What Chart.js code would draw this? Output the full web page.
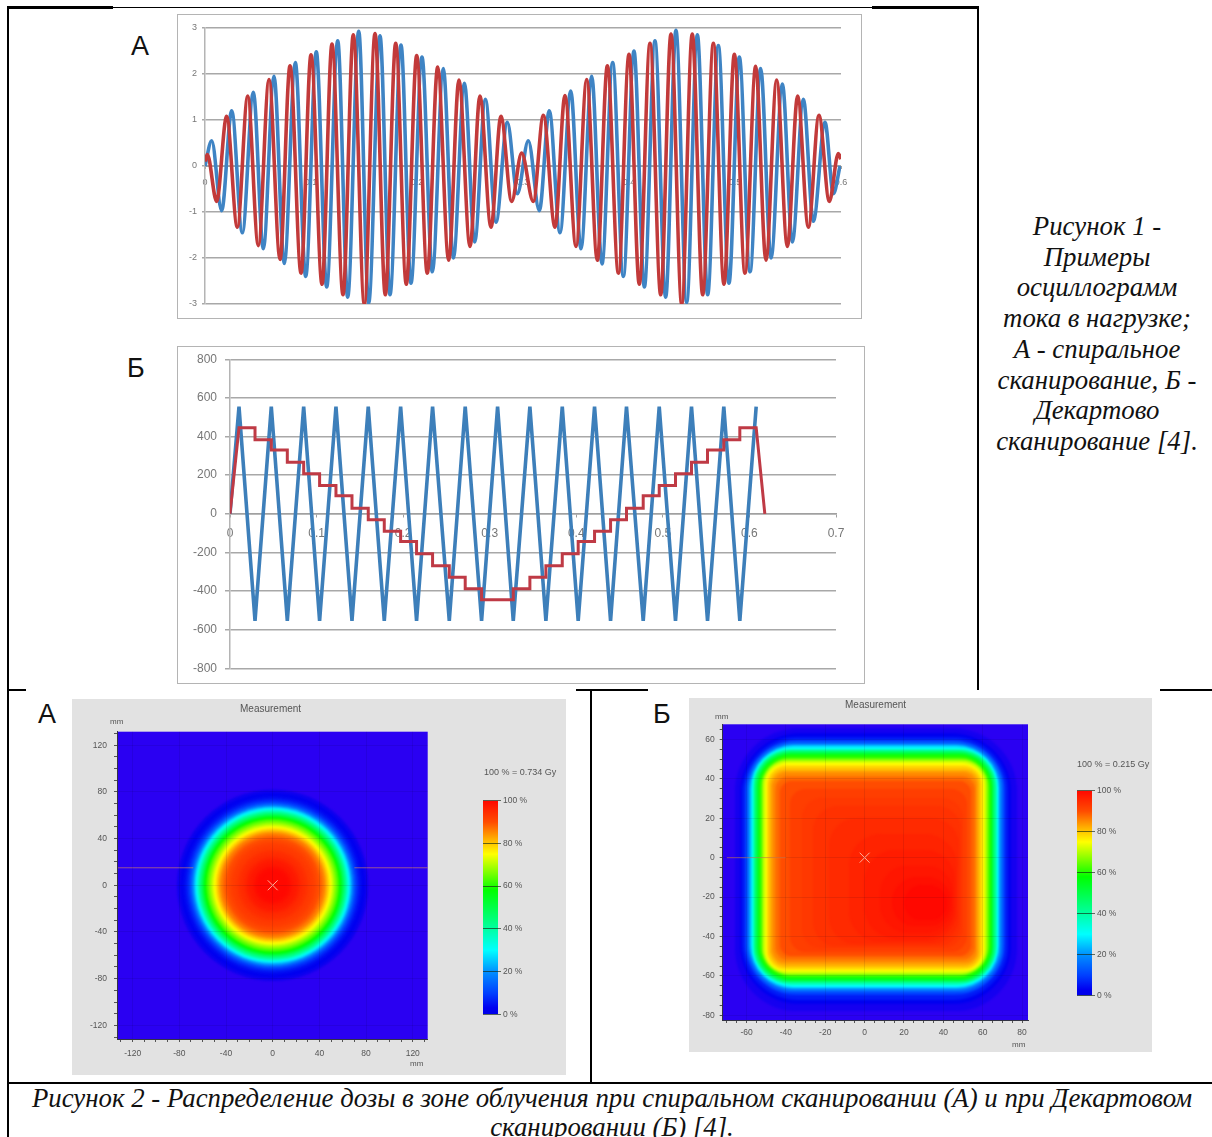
<!DOCTYPE html>
<html lang="ru"><head><meta charset="utf-8"><title>Осциллограммы и распределение дозы</title>
<script src="https://cdn.jsdelivr.net/npm/chart.js@4"></script>
<style>
html,body{margin:0;padding:0;background:#fff;width:1212px;height:1137px;overflow:hidden}
.a{position:absolute}
.ln{position:absolute;background:#000}
canvas{position:absolute;filter:blur(.6px)}
.frame{position:absolute;border:1.5px solid #b4b4b4;box-sizing:border-box}
.panel{position:absolute;background:#e2e2e2}
.big{position:absolute;font:27px "Liberation Sans",sans-serif;color:#111;line-height:28px}
.cap{position:absolute;font:italic 26.8px/30.7px "Liberation Serif",serif;color:#111;text-align:center;white-space:nowrap}
.sm{position:absolute;font:10px/11px "Liberation Sans",sans-serif;color:#555;white-space:nowrap;filter:blur(.3px)}
</style></head><body>
<div class="ln" style="left:7px;top:6px;width:106px;height:2.5px"></div>
<div class="ln" style="left:113px;top:7px;width:759px;height:1px"></div>
<div class="ln" style="left:872px;top:6px;width:106px;height:2.5px"></div>
<div class="ln" style="left:7px;top:6px;width:2px;height:1131px"></div>
<div class="ln" style="left:977px;top:6px;width:2px;height:684px"></div>
<div class="ln" style="left:7px;top:689px;width:19px;height:2px"></div>
<div class="ln" style="left:576px;top:689px;width:72px;height:2px"></div>
<div class="ln" style="left:1160px;top:689px;width:52px;height:2px"></div>
<div class="ln" style="left:590px;top:689px;width:2px;height:393px"></div>
<div class="ln" style="left:7px;top:1082px;width:1205px;height:2px"></div>

<div class="big" style="left:131px;top:32px">А</div>
<div class="big" style="left:127px;top:354px">Б</div>
<div class="big" style="left:38px;top:700px">А</div>
<div class="big" style="left:653px;top:700px">Б</div>

<div class="frame" style="left:177px;top:14px;width:685px;height:305px"></div>
<canvas id="oscA" width="683" height="304" style="left:178px;top:14px"></canvas>
<div class="frame" style="left:177px;top:346px;width:688px;height:338px"></div>
<canvas id="oscB" width="686" height="337" style="left:178px;top:346px"></canvas>

<div class="panel" style="left:72px;top:699px;width:494px;height:376px"></div>
<canvas id="doseA" width="494" height="376" style="left:72px;top:699px"></canvas>
<canvas id="barA" width="90" height="240" style="left:483px;top:788px"></canvas>
<div class="sm" style="left:240px;top:703px">Measurement</div>
<div class="sm" style="left:110px;top:716px;font-size:8px">mm</div>
<div class="sm" style="left:410px;top:1058px;font-size:8px">mm</div>
<div class="sm" style="left:484px;top:767px;font-size:9px">100 % = 0.734 Gy</div>

<div class="panel" style="left:689px;top:698px;width:463px;height:354px"></div>
<canvas id="doseB" width="463" height="354" style="left:689px;top:698px"></canvas>
<canvas id="barB" width="90" height="230" style="left:1077px;top:778px"></canvas>
<div class="sm" style="left:845px;top:699px">Measurement</div>
<div class="sm" style="left:715px;top:711px;font-size:8px">mm</div>
<div class="sm" style="left:1012px;top:1039px;font-size:8px">mm</div>
<div class="sm" style="left:1077px;top:759px;font-size:9px">100 % = 0.215 Gy</div>

<div class="cap" style="left:980px;top:211px;width:234px">Рисунок 1 -<br>Примеры<br>осциллограмм<br>тока в нагрузке;<br>А - спиральное<br>сканирование, Б -<br>Декартово<br>сканирование [4].</div>
<div class="cap" style="left:0;top:1084px;width:1224px;line-height:29px">Рисунок 2 - Распределение дозы в зоне облучения при спиральном сканировании (А) и при Декартовом<br>сканировании (Б) [4].</div>

<script>
// ---------- oscillogram A: turning points ----------
const oscAYTicks = [-3,-2,-1,0,1,2,3];
const oscAXTicks = [0,.1,.2,.3,.4,.5,.6];
const oscABlueT = [0,.0063,.0157,.0252,.0352,.0456,.055,.0651,.0748,.0852,.095,.105,.1148,.1252,.1346,.145,.1544,.1651,.1745,.1849,.1943,.2047,.2145,.2248,.2343,.2447,.2544,.2645,.2745,.2852,.2947,.305,.3154,.3248,.3349,.345,.3547,.3648,.3745,.3846,.3947,.4047,.4145,.4245,.4346,.4443,.4544,.4645,.4742,.4843,.4943,.5041,.5142,.5242,.534,.5447,.5541,.5645,.5739,.5849,.5928,.5991];
const oscABlueV = [0,.55,-.97,1.2,-1.45,1.6,-1.8,1.95,-2.12,2.25,-2.4,2.48,-2.63,2.72,-2.85,2.93,-2.98,2.83,-2.8,2.63,-2.55,2.37,-2.3,2.12,-2,1.8,-1.65,1.45,-1.22,.95,-.6,.55,-.97,1.2,-1.45,1.63,-1.8,1.95,-2.13,2.25,-2.4,2.5,-2.63,2.72,-2.85,2.95,-2.97,2.85,-2.8,2.62,-2.55,2.37,-2.3,2.12,-2,1.78,-1.65,1.45,-1.2,.95,-.6,0];
const oscARedT = [0,.0022,.011,.0204,.0305,.0403,.0503,.0604,.0708,.0802,.0906,.1,.1104,.1198,.1302,.1399,.1503,.1604,.1701,.1799,.1899,.1997,.2097,.2195,.2299,.2396,.25,.2594,.2698,.2792,.2893,.2987,.3097,.3192,.3302,.3396,.35,.3601,.3701,.3796,.39,.4,.4097,.4198,.4299,.4396,.4497,.4597,.4695,.4796,.4896,.4994,.5094,.5195,.5292,.5393,.5494,.5591,.5692,.5792,.589,.5975,.6];
const oscARedV = [.1,.25,-.77,1.08,-1.33,1.52,-1.73,1.88,-2.03,2.18,-2.33,2.42,-2.57,2.65,-2.8,2.85,-3,2.88,-2.8,2.67,-2.57,2.4,-2.33,2.15,-2.05,1.87,-1.75,1.52,-1.33,1.08,-.77,.28,-.77,1.1,-1.33,1.53,-1.75,1.88,-2.05,2.18,-2.33,2.43,-2.57,2.67,-2.8,2.87,-3,2.87,-2.8,2.67,-2.57,2.43,-2.33,2.17,-2.05,1.87,-1.75,1.52,-1.33,1.1,-.77,.27,.15];

// ---------- oscillogram Б ----------
const oscBXTicks = [0,.1,.2,.3,.4,.5,.6,.7];
const oscBYTicks = [-800,-600,-400,-200,0,200,400,600,800];
const oscBBlueT = [0,.0104,.0289,.0477,.0662,.0851,.1035,.1224,.1409,.1597,.1782,.1971,.2155,.234,.2533,.2717,.2906,.3091,.3272,.3464,.3649,.3838,.4022,.4211,.4396,.458,.4773,.4958,.5146,.5331,.5516,.5704,.5889,.6078];
const oscBBlueV = [0,555,-555,555,-555,555,-555,555,-555,555,-555,555,-555,555,-555,555,-555,555,-555,555,-555,555,-555,555,-555,555,-555,555,-555,555,-555,555,-555,555];
const oscBRedT = [0,.0104,.0289,.0289,.0477,.0477,.0662,.0662,.0851,.0851,.1035,.1035,.1224,.1224,.1409,.1409,.1597,.1597,.1782,.1782,.1971,.1971,.2155,.2155,.234,.234,.2533,.2533,.2717,.2717,.2906,.2906,.3272,.3272,.3464,.3464,.3649,.3649,.3838,.3838,.4022,.4022,.4211,.4211,.4396,.4396,.458,.458,.4773,.4773,.4958,.4958,.5146,.5146,.5331,.5331,.5516,.5516,.5704,.5704,.5889,.5889,.6078,.6178];
const oscBRedV = [0,446,446,383,383,331,331,267,267,207,207,147,147,93,93,29,29,-31,-31,-91,-91,-143,-143,-207,-207,-269,-269,-328,-328,-388,-388,-445,-445,-388,-388,-328,-328,-269,-269,-207,-207,-143,-143,-91,-91,-31,-31,29,29,93,93,147,147,207,207,267,267,331,331,383,383,446,446,0];

// ---------- dose map А: radial dose profile ----------
const doseARadius = [82,81,80,79,78,77,76,75,74,73,72,71,70,69,68,67,66,65,64,63,62,61,60,59,58,57,56,55,54,53,52,51,50,49,48,47,46,45,44,43,42,41,40,38,36,34,32,30,28,26,24,22,20,18,16,14,12];
const doseAPct    = [1,1.5,2,2.5,3,3.5,4,5,6,7.5,9,11,14,17,21,25,29,33,37,41,44,48,51,55,58,61,63,65,67,69,71,73,75,77,79,81,83,85,86,87,88,89,90,91,92,92.5,93,94,94.5,95,96,97,97.5,98,99,99.5,100];
const doseATicks = [-130,-120,-110,-100,-90,-80,-70,-60,-50,-40,-30,-20,-10,0,10,20,30,40,50,60,70,80,90,100,110,120,130];
const doseALineX = [[-133,-68],[70,133]];
const doseALineY = 15;

// ---------- dose map Б: iso-dose rounded squares ----------
const doseBPct    = [1,3,6,10,15,20,25,30,35,40,45,50,55,60,65,70,72.5,75,77.5,80,82.5,85,87,88,90,92,93,94,95,96,97,98,99,100];
const doseBLeft   = [-65.9,-63.3,-62.1,-60.8,-59.6,-58.7,-58.1,-57.4,-56.9,-56.4,-55.7,-55,-54.3,-53.7,-52.6,-51.6,-51,-50.4,-49.7,-48.9,-48,-46.9,-45.5,-44.7,-43,-38,-32,-26,-18,-8,0,8,14,20];
const doseBRight  = [77.4,74.5,73,71.5,70.3,69.4,68.5,67.8,67.2,66.7,66,65.3,64.7,64,63,62,61.3,60.5,59.9,59.2,58.4,57.4,56.2,55.4,54,52,50,49,48,47,46,45,44,42];
const doseBTop    = [65.7,63.1,61.4,59.8,58.6,57.5,56.9,56.2,55.5,54.8,54.1,53.5,52.8,51.9,50.9,49.7,48.9,48,47,45.9,44.7,43.3,41.5,40.3,39,35,30,26,20,12,4,-4,-10,-14];
const doseBBottom = [-78.2,-74.4,-72.2,-70,-68.4,-67.2,-66.3,-65.5,-64.6,-63.9,-63.3,-62.6,-61.9,-61.2,-60,-59,-58.4,-57.8,-57,-56.1,-54.9,-53.6,-52,-50.7,-50,-48,-46,-45,-44,-43,-41,-38,-35,-32];
const doseBCorner = [32,30,28,26,24,23,22,21,20,19,18,17.5,17,16,15,13,12,11,10,9,8,7,6.5,6,6,8,10,12,14,16,16,14,12,10];
const doseBXTicks = [-70,-65,-60,-55,-50,-45,-40,-35,-30,-25,-20,-15,-10,-5,0,5,10,15,20,25,30,35,40,45,50,55,60,65,70,75,80];
const doseBYTicks = [-80,-75,-70,-65,-60,-55,-50,-45,-40,-35,-30,-25,-20,-15,-10,-5,0,5,10,15,20,25,30,35,40,45,50,55,60,65];
const doseBLineX = [[-70,-40]];
const doseBLineY = 0;

const colorbarTicks = [0,20,40,60,80,100];
const colorStops = [[0,'#2000f0'],[3,'#0000f0'],[10,'#0040ff'],[20,'#0090ff'],[30,'#00ffff'],[42,'#00ff90'],[58,'#00ff00'],[75,'#ffff00'],[82,'#ffb000'],[90,'#ff4c00'],[100,'#ff0800']];

function hexRgb(h){return [1,3,5].map(i=>parseInt(h.substr(i,2),16));}
function doseColor(p){
  for(let i=1;i<colorStops.length;i++){
    if(p<=colorStops[i][0]){
      const [a,ca]=colorStops[i-1],[b,cb]=colorStops[i],t=(p-a)/(b-a),A=hexRgb(ca),B=hexRgb(cb);
      return 'rgb('+A.map((v,k)=>Math.round(v+(B[k]-v)*t)).join(',')+')';
    }
  }
  return colorStops[colorStops.length-1][1];
}
const pts=(xs,ys)=>xs.map((x,i)=>({x,y:ys[i]}));
const fitY=w=>s=>{s.width=w;s.paddingTop=0;s.paddingBottom=0;};
const fitX=h=>s=>{s.height=h;s.paddingLeft=0;s.paddingRight=0;};
const base={responsive:false,animation:false,devicePixelRatio:1,events:[],plugins:{legend:{display:false},tooltip:{enabled:false},title:{display:false}}};
const lbl=(size,color)=>({font:{family:'"Liberation Sans",sans-serif',size},color});

function oscOptions(cfg){
  return Object.assign({},base,{
    layout:{padding:cfg.pad},
    elements:{point:{radius:0}},
    scales:{
      x:{type:'linear',min:cfg.xMin,max:cfg.xMax,position:{y:0},afterFit:fitX(cfg.xH),
        afterBuildTicks:s=>{s.ticks=cfg.xTicks.map(value=>({value}));},
        border:{display:true,color:'#a0a0a0',width:cfg.axisW},
        grid:{drawOnChartArea:false,drawTicks:true,tickLength:cfg.tickX,color:'#a0a0a0'},
        ticks:Object.assign({maxRotation:0,autoSkip:false,padding:cfg.padX,callback:v=>String(v)},lbl(cfg.fontX,cfg.colorText))},
      y:{min:cfg.yMin,max:cfg.yMax,afterFit:fitY(cfg.yW),
        afterBuildTicks:s=>{s.ticks=cfg.yTicks.map(value=>({value}));},
        border:{display:true,color:'#b4b4b4',width:1.5},
        grid:{color:'#a8a8a8',lineWidth:1.5,tickLength:cfg.tickY},
        ticks:Object.assign({padding:cfg.padY},lbl(cfg.fontY,cfg.colorText))}
    }
  });
}
new Chart(document.getElementById('oscA'),{type:'scatter',
  data:{datasets:[
    {label:'blue',data:pts(oscABlueT,oscABlueV),showLine:true,borderColor:'#3f84c4',borderWidth:3.6,cubicInterpolationMode:'monotone',order:2},
    {label:'red',data:pts(oscARedT,oscARedV),showLine:true,borderColor:'#c23a3a',borderWidth:3.6,cubicInterpolationMode:'monotone',order:1}
  ]},
  options:oscOptions({pad:{left:0,right:20,top:14,bottom:14},xMin:0,xMax:.6,xTicks:oscAXTicks,xH:0,axisW:1,tickX:2,padX:9,fontX:9,colorText:'#777',
    yMin:-3,yMax:3,yTicks:oscAYTicks,yW:27,tickY:3,padY:5,fontY:9})
});
new Chart(document.getElementById('oscB'),{type:'scatter',
  data:{datasets:[
    {label:'blue',data:pts(oscBBlueT,oscBBlueV),showLine:true,borderColor:'#3d7fba',borderWidth:3.6,order:2},
    {label:'red',data:pts(oscBRedT,oscBRedV),showLine:true,borderColor:'#bf3a45',borderWidth:3,order:1}
  ]},
  options:oscOptions({pad:{left:0,right:28,top:13.3,bottom:14.7},xMin:0,xMax:.7,xTicks:oscBXTicks,xH:0,axisW:1.5,tickX:3,padX:10,fontX:12,colorText:'#777',
    yMin:-800,yMax:800,yTicks:oscBYTicks,yW:52,tickY:5,padY:8,fontY:12})
});

// ---------- dose maps ----------
const fillArea={id:'fillArea',
  beforeDatasetsDraw(c,a,o){const r=c.chartArea;c.ctx.save();c.ctx.fillStyle=o.color;c.ctx.fillRect(r.left,r.top,r.right-r.left,r.bottom-r.top);c.ctx.restore();},
  beforeDatasetDraw(c,a,o){if(a.index===0)c.ctx.filter='blur('+o.soft+'px)';},
  afterDatasetDraw(c,a){if(a.index===0)c.ctx.filter='none';}
};
function mapScale(min,max,ticks,labelEvery,extra,pad){
  return Object.assign({type:'linear',min,max,
    afterBuildTicks:s=>{s.ticks=ticks.map(value=>({value}));},
    border:{display:true,color:'#334',width:1,z:2},
    grid:{z:1,tickLength:3,tickColor:'#555',lineWidth:1,
      color:c=>(c.tick&&c.tick.value%labelEvery===0)?'rgba(0,0,30,.09)':'rgba(0,0,0,0)'},
    ticks:Object.assign({autoSkip:false,maxRotation:0,padding:pad,callback:v=>v%labelEvery===0?String(v):''},lbl(8.5,'#555'))},extra);
}
function lineSet(segs,y){return segs.map(s=>({type:'scatter',data:pts(s,[y,y]),showLine:true,borderColor:'rgba(225,140,90,.6)',borderWidth:1,pointRadius:0,order:0}));}
const crossSet=()=>({type:'scatter',data:[{x:0,y:0}],pointStyle:'crossRot',pointRadius:7,pointBorderColor:'#ffb09a',pointBorderWidth:1,order:-1});

new Chart(document.getElementById('doseA'),{type:'scatter',plugins:[fillArea],
  data:{datasets:[
    {data:doseARadius.map(()=>({x:0,y:0})),order:5,
     pointStyle:'circle',pointBorderWidth:0,
     pointRadius:c=>{const x=c.chart.scales.x;return x.getPixelForValue(doseARadius[c.dataIndex])-x.getPixelForValue(0);},
     pointBackgroundColor:c=>doseColor(doseAPct[c.dataIndex])},
    ...lineSet(doseALineX,doseALineY),crossSet()
  ]},
  options:Object.assign({},base,{
    layout:{padding:{left:0,right:138.3,top:32.7,bottom:0}},
    plugins:Object.assign({},base.plugins,{fillArea:{color:'#2a00f2',soft:1}}),
    scales:{
      x:mapScale(-133.4,132.8,doseATicks,40,{afterFit:fitX(36)},7),
      y:mapScale(-131.7,131.6,doseATicks,40,{afterFit:fitY(45)},7)
    }
  })
});

function roundedShape(c){
  const i=c.dataIndex,x=c.chart.scales.x;
  const sx=(x.getPixelForValue(100)-x.getPixelForValue(0))/100;
  const w=Math.max(1,Math.round((doseBRight[i]-doseBLeft[i])*sx));
  const h=Math.max(1,Math.round((doseBTop[i]-doseBBottom[i])*sx));
  const cv=document.createElement('canvas');cv.width=w;cv.height=h;
  const g=cv.getContext('2d');g.fillStyle=doseColor(doseBPct[i]);g.beginPath();
  g.roundRect(0,0,w,h,doseBCorner[i]*sx);g.fill();
  return cv;
}
new Chart(document.getElementById('doseB'),{type:'scatter',plugins:[fillArea],
  data:{datasets:[
    {data:doseBPct.map((_,i)=>({x:(doseBLeft[i]+doseBRight[i])/2,y:(doseBTop[i]+doseBBottom[i])/2})),order:5,
     pointStyle:roundedShape,pointRadius:3,pointBorderWidth:0},
    ...lineSet(doseBLineX,doseBLineY),crossSet()
  ]},
  options:Object.assign({},base,{
    layout:{padding:{left:0,right:124,top:26.3,bottom:0}},
    plugins:Object.assign({},base.plugins,{fillArea:{color:'#2a00f2',soft:1.2}}),
    scales:{
      x:mapScale(-72.1,83,doseBXTicks,20,{afterFit:fitX(32)},5),
      y:mapScale(-82.4,67.7,doseBYTicks,20,{afterFit:fitY(33.7)},5)
    }
  })
});

// ---------- colour bars ----------
function colorbar(id,padT,padB){
  new Chart(document.getElementById(id),{type:'bar',
    data:{labels:['dose'],datasets:[{data:[[0,100]],barPercentage:1,categoryPercentage:1,
      backgroundColor:c=>{
        const a=c.chart.chartArea; if(!a) return '#000';
        const g=c.chart.ctx.createLinearGradient(0,a.bottom,0,a.top);
        colorStops.forEach(([p,col],i)=>g.addColorStop(i===0?0:p/100,i===0?'#0000e8':col));
        return g;
      }}]},
    options:Object.assign({},base,{
      layout:{padding:{left:0,right:0,top:padT,bottom:padB}},
      scales:{
        x:{display:false,afterFit:fitX(0)},
        y:{position:'right',min:0,max:100,afterFit:fitY(75),
          afterBuildTicks:s=>{s.ticks=colorbarTicks.map(value=>({value}));},
          border:{display:false},
          grid:{z:1,color:'rgba(20,40,20,.65)',tickLength:3},
          ticks:Object.assign({padding:2,callback:v=>v+' %'},lbl(8.5,'#555'))}
      }
    })
  });
}
colorbar('barA',12.7,240-226.3);
colorbar('barB',12.7,230-217.7);
</script>
</body></html>
